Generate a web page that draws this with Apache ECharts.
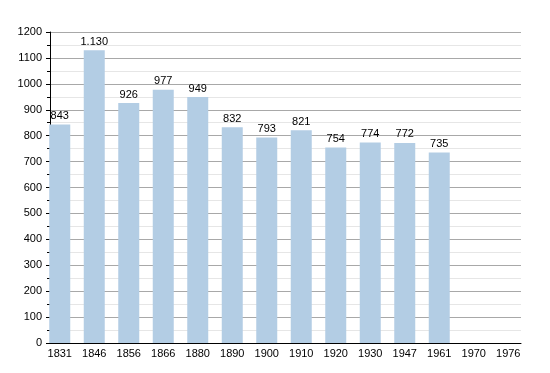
<!DOCTYPE html>
<html><head><meta charset="utf-8">
<script src="https://cdn.jsdelivr.net/npm/echarts@6/dist/echarts.min.js"></script>
<style>html,body{margin:0;padding:0;background:#fff}#c{width:550px;height:373px}</style>
</head><body><div id="c"></div>
<script>
const years = ['1831','1846','1856','1866','1880','1890','1900','1910','1920','1930','1947','1961','1970','1976'];
const population = [843,1130,926,977,949,832,793,821,754,774,772,735,null,null];
const yMin = 0, yMax = 1200, yStep = 100;

const font = 'Liberation Sans, Arial, sans-serif';
const chart = echarts.init(document.getElementById('c'), null, {renderer:'canvas'});
chart.setOption({
  animation:false,
  grid:[
    {left:42.5, width:483, top:32, bottom:30},
    {left:50, right:29, top:32, bottom:30}
  ],
  xAxis:[
    {type:'category', gridIndex:0, data:years, boundaryGap:true,
     axisLine:{show:false}, axisTick:{show:false},
     axisLabel:{color:'#000', fontFamily:font, fontSize:11, margin:5, interval:0}},
    {type:'value', gridIndex:1, min:0, max:1, show:true,
     axisLine:{show:true, onZero:false, lineStyle:{color:'#000', width:1}},
     axisTick:{show:false}, axisLabel:{show:false}, splitLine:{show:false}}
  ],
  yAxis:[
    {type:'value', gridIndex:0, min:yMin, max:yMax, interval:yStep, show:false, splitLine:{show:false}},
    {type:'value', gridIndex:1, min:yMin, max:yMax, interval:yStep,
     axisLine:{show:true, lineStyle:{color:'#000', width:1}},
     axisTick:{show:true, inside:false, length:4, lineStyle:{color:'#000'}},
     minorTick:{show:true, splitNumber:2, length:3, lineStyle:{color:'#000'}},
     axisLabel:{color:'#000', fontFamily:font, fontSize:11, margin:8, formatter:v => String(v)},
     splitLine:{show:true, lineStyle:{color:'#a8a8a8', width:1}},
     minorSplitLine:{show:true, lineStyle:{color:'#e6e6e6', width:1}}}
  ],
  series:[{
    type:'bar', xAxisIndex:0, yAxisIndex:0, data:population, barWidth:21,
    itemStyle:{color:'#b3cde4'},
    label:{show:true, position:'top', distance:3, color:'#000', fontFamily:font, fontSize:11,
      formatter:p => p.value == null ? '' : String(p.value).replace(/\B(?=(\d{3})+(?!\d))/g,'.')}
  }]
});
</script></body></html>
